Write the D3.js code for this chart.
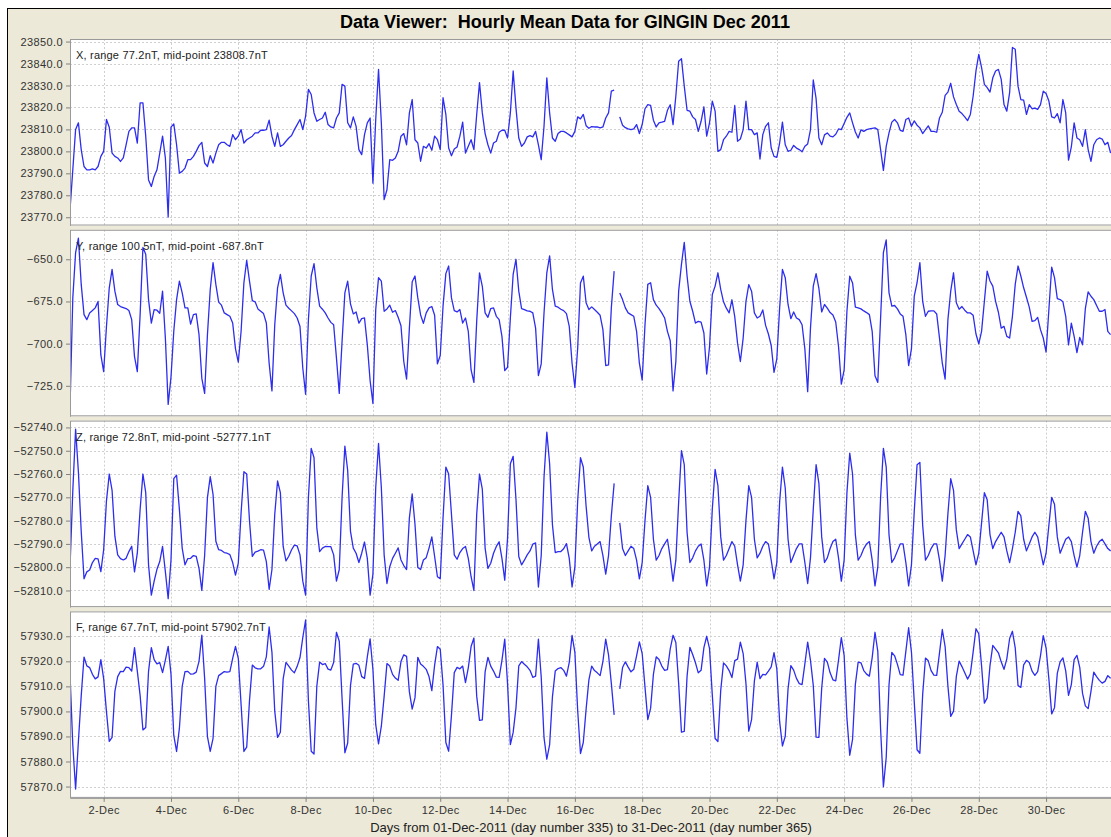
<!DOCTYPE html>
<html>
<head>
<meta charset="utf-8">
<script src="https://cdn.jsdelivr.net/npm/d3@7"></script>
<style>
  html, body { margin: 0; padding: 0; background: #ffffff; }
  svg { display: block; font-family: "Liberation Sans", Arial, sans-serif; }
</style>
</head>
<body>
<svg id="chart" width="1111" height="837"></svg>
<script>
// ---- data -------------------------------------------------------------
// Samples every 2 hours from 01-Dec-2011 00:00 UT
const seriesStart = Date.UTC(2011, 11, 1, 0);
const sampleHours = 2;
const lastHour = 743;

const xTickLabels = ["2-Dec", "4-Dec", "6-Dec", "8-Dec", "10-Dec", "12-Dec", "14-Dec", "16-Dec",
  "18-Dec", "20-Dec", "22-Dec", "24-Dec", "26-Dec", "28-Dec", "30-Dec"];

const components = ["X", "Y", "Z", "F"];
const ranges = [77.2, 100.5, 72.8, 67.7];
const midpoints = [23808.7, -687.8, -52777.1, 57902.7];

const xTicksNT = [23770, 23780, 23790, 23800, 23810, 23820, 23830, 23840, 23850];
const yTicksNT = [-725, -700, -675, -650];
const zTicksNT = [-52810, -52800, -52790, -52780, -52770, -52760, -52750, -52740];
const fTicksNT = [57870, 57880, 57890, 57900, 57910, 57920, 57930];

const xValues = [
  23773.3, 23791.6, 23810, 23813, 23800.8, 23793.1, 23791.6, 23791.6, 23792, 23791.6, 23793.1, 23797.7,
  23800, 23814.5, 23811, 23799.2, 23797.7, 23797, 23795.4, 23797, 23803, 23809.1, 23810.7, 23810.7,
  23803.8, 23822.1, 23822.1, 23806.9, 23787, 23784, 23788.6, 23791.6, 23799.2, 23806.9, 23797, 23770.1,
  23811, 23812.5, 23803, 23790.1, 23790.9, 23792.4, 23796.2, 23796.2, 23797.7, 23800, 23802.6, 23804.1,
  23794.7, 23793.1, 23798, 23794.7, 23799.2, 23803, 23804.1, 23804.1, 23803, 23802.3, 23807.6, 23805.3,
  23806.9, 23809.9, 23803.8, 23805.3, 23806.1, 23806.9, 23808.4, 23808.4, 23809.6, 23809.6, 23809.9, 23814.2,
  23806.9, 23802.3, 23808.4, 23802.3, 23803, 23804.6, 23806.1, 23807.2, 23809.9, 23812.2, 23814.5, 23809.9,
  23816, 23828.2, 23825.9, 23817.5, 23813.7, 23814.5, 23815.2, 23817.8, 23812.2, 23811.1, 23810.7, 23815.2,
  23817.5, 23830.5, 23829.7, 23813, 23810.7, 23815.7, 23811.4, 23800.8, 23798.5, 23807.6, 23813, 23815.2,
  23785.5, 23814.5, 23837.3, 23813, 23778, 23782.5, 23796.2, 23795.9, 23797, 23800, 23806.9, 23808.1,
  23803, 23817.5, 23823.6, 23805.3, 23803.8, 23795.5, 23802.3, 23801.5, 23803.5, 23800.5, 23806.9, 23805.3,
  23800.8, 23824.4, 23816.8, 23801.5, 23798, 23801.1, 23802, 23806.9, 23813.3, 23799.2, 23802.3, 23805.3,
  23800.8, 23816.8, 23831.3, 23817.5, 23808.1, 23803, 23799.2, 23803.8, 23804.6, 23808.7, 23809.6, 23809.6,
  23806.1, 23817.5, 23836.6, 23819.8, 23806.1, 23802.3, 23803.8, 23806.6, 23807.2, 23806.6, 23809.1, 23803,
  23796.2, 23811.4, 23833.5, 23817.5, 23806.1, 23804.6, 23808.1, 23809.1, 23809.1, 23808.4, 23807.5, 23806.6,
  23809.1, 23815.7, 23814.8, 23816.8, 23811.7, 23810.5, 23811.3, 23811.1, 23811.1, 23810.7, 23811.1, 23815.2,
  23817.5, 23827.4, 23827.9, null, 23815.7, 23811.9, 23810.8, 23810.2, 23809.9, 23810.2, 23812.2, 23808.1,
  23812.2, 23819.4, 23821.3, 23820.9, 23814.2, 23811.1, 23813, 23813.3, 23813.7, 23818.7, 23821.2, 23812.2,
  23825.2, 23841, 23842.2, 23829.7, 23818.7, 23818.3, 23815.7, 23814.5, 23809.1, 23813.7, 23820.3, 23806.9,
  23813, 23822.9, 23818.3, 23800, 23800.8, 23805.3, 23806.9, 23809.1, 23808.7, 23820.9, 23804.6, 23805.6,
  23809.9, 23822.9, 23809.9, 23809.9, 23807.6, 23808.4, 23796.5, 23807.6, 23811.4, 23813, 23801.5, 23797.7,
  23797.3, 23803.8, 23813.3, 23803, 23800, 23800.5, 23802.7, 23801.5, 23800.8, 23799.8, 23802.3, 23803.4,
  23809.9, 23832.5, 23824, 23806.1, 23803, 23807.5, 23808.4, 23806.9, 23806.6, 23807.8, 23810.2, 23809.9,
  23812.7, 23815.5, 23817.5, 23813, 23808.8, 23806.1, 23809.8, 23809.1, 23809.9, 23810.2, 23810.5, 23810.7,
  23809.9, 23800.8, 23791.3, 23802.3, 23808.4, 23813.3, 23814.5, 23813, 23809.6, 23809.1, 23814.5, 23815.2,
  23811.4, 23813.9, 23811.9, 23810.7, 23808.1, 23809.9, 23811.6, 23809.1, 23809.1, 23808.7, 23815.2, 23817.8,
  23825.5, 23827, 23831, 23824.8, 23821.3, 23818.3, 23817.2, 23815.7, 23814, 23816.8, 23825.2, 23836.6,
  23844.2, 23838.1, 23830.5, 23829, 23827, 23833.5, 23836.6, 23837.3, 23832.8, 23821.3, 23818.3, 23826.7,
  23847.3, 23846.5, 23829.7, 23823.6, 23823.3, 23816.8, 23821.3, 23819.4, 23819.7, 23819.1, 23821.3, 23827.4,
  23826.3, 23822.9, 23815.7, 23815.2, 23817.2, 23813, 23823.6, 23817.5, 23796, 23802, 23813, 23806.1,
  23805.3, 23802.3, 23809.9, 23800.8, 23795.4, 23803, 23805.3, 23806.1, 23805.6, 23803, 23804.1, 23799.2
];

const yValues = [
  -738, -672.9, -646, -637.5, -664.9, -682.8, -685.8, -681.8, -680.4, -678.8, -675, -706.7,
  -716.6, -689.8, -666.9, -656, -668.9, -676.8, -678, -678.6, -679.2, -680.4, -685.8, -707.7,
  -716.6, -682.8, -643, -647, -673.9, -687.8, -679.8, -680.2, -682, -668.9, -696.7, -736,
  -720, -692.7, -673.9, -662.9, -669.9, -678.8, -678.8, -688.4, -682.8, -682.4, -694.7, -720.6,
  -729.5, -694.7, -667.9, -652, -664.9, -675.4, -677.2, -681.8, -682.8, -683.8, -687.8, -703.1,
  -711, -692.7, -663.9, -650.6, -662.9, -674.5, -675.2, -679.4, -680.8, -682.2, -687.8, -711.6,
  -728, -688.8, -666.9, -659, -669.9, -677.2, -679, -680.6, -682.2, -684.8, -689.8, -714.6,
  -730, -685.8, -659.9, -652.6, -666.9, -677.8, -679.6, -681.8, -684.8, -687.4, -688.8, -708.6,
  -729.5, -698.7, -669.9, -663, -676.4, -682.4, -681.2, -687.8, -685.2, -684.8, -700.7, -722,
  -735.5, -679.8, -660.9, -662.9, -680.8, -679.4, -677.2, -681.4, -680.4, -684.4, -689.4, -710.6,
  -721, -690.8, -663.3, -659.9, -672.9, -683, -688, -681.8, -678.8, -678, -683.2, -712,
  -707, -677.8, -658.5, -654, -672.9, -680.4, -681.2, -679.8, -687.8, -684.8, -692.7, -715.6,
  -723, -686.8, -658, -666, -681.8, -684.4, -679.2, -678.8, -683.8, -685.8, -695.7, -716,
  -714, -684.8, -658.9, -650, -668.9, -679.2, -679.8, -680.6, -680.8, -681.8, -690.8, -719,
  -712, -681.8, -658, -648, -667.9, -677.8, -678.4, -679.6, -680.4, -682.2, -689.8, -711.6,
  -726, -702.7, -664, -660, -675.8, -679.8, -678.2, -679.8, -681.4, -683.2, -691.7, -713,
  -712.6, -678.8, -657, null, -670, -673.9, -678.8, -681.8, -682.8, -683.8, -692.7, -711.6,
  -721.6, -688.8, -664.9, -663.9, -673.9, -677.2, -679.2, -681.8, -684.8, -692.7, -698.3, -728,
  -710.6, -668.9, -653, -640, -659.9, -674.9, -680.8, -687.8, -686.8, -687.2, -693.7, -718,
  -702, -670.9, -665.9, -658, -667.9, -675.2, -679, -681.8, -674, -684, -699.7, -710.6,
  -696.7, -674.9, -665, -668.9, -681.8, -684.8, -683.8, -680, -689.2, -694.3, -701.1, -717,
  -709, -678.8, -656, -660.9, -676.8, -685.2, -681.2, -684.8, -685.8, -688.8, -703.1, -728.5,
  -690.8, -665.9, -658.5, -667.3, -681.2, -676.8, -679, -681.6, -683, -687.2, -701.7, -724,
  -715.6, -680.8, -660, -664, -678.4, -678.8, -679.4, -680.6, -681.6, -682.8, -692.7, -719,
  -723, -684.8, -646, -638.5, -669.9, -677.8, -677.4, -679.4, -682.4, -683.8, -694.7, -713,
  -703, -671.9, -663.9, -652, -674.9, -683.8, -680.8, -680.6, -680.6, -682.4, -696.7, -711.6,
  -721, -685.8, -668.9, -658, -675.8, -679.6, -678, -680.2, -681.8, -681.8, -683.2, -694.3,
  -700.1, -692.7, -674.9, -657, -662.9, -665.9, -674.9, -681.4, -690.8, -689.8, -695.7, -696.7,
  -683.8, -664.9, -654, -659.9, -666.9, -672.5, -678.4, -686.8, -686.4, -684.4, -691.7, -696.7,
  -705, -679.8, -654.6, -660.9, -673.3, -673.9, -675.2, -683.8, -700.7, -687.8, -695.7, -705.3,
  -696.3, -700.7, -679.2, -669.3, -671.9, -673.9, -677.4, -680.8, -680.8, -679.8, -692.7, -694.7
];

const zValues = [
  -52800, -52767.2, -52740.7, -52759.2, -52784.6, -52805, -52802, -52801.2, -52798, -52796.2, -52796.4, -52801.9,
  -52792.5, -52771.5, -52760, -52767, -52786.7, -52794.7, -52796.3, -52796.9, -52796.2, -52793.3, -52791, -52802,
  -52794, -52775.2, -52760, -52768, -52799, -52812, -52806, -52800.9, -52797.6, -52791.1, -52801.9, -52813.5,
  -52797, -52762, -52760.5, -52775.2, -52791.8, -52799, -52796.3, -52796.2, -52795, -52795.4, -52800.5, -52810,
  -52795, -52770.1, -52761.1, -52768.7, -52788.9, -52792.5, -52792.8, -52793.7, -52794, -52794.6, -52798, -52803.4,
  -52798.3, -52776.6, -52759, -52760, -52780.2, -52795.4, -52793.5, -52793.1, -52792.5, -52792.7, -52797.6, -52809.5,
  -52801, -52777.3, -52763, -52768, -52791.1, -52797.3, -52795.3, -52792.5, -52790.5, -52790.9, -52794.7, -52806,
  -52812, -52770.1, -52749, -52753, -52783.1, -52793.3, -52791.8, -52791.1, -52791.2, -52791.2, -52794.7, -52806,
  -52801, -52770.1, -52748, -52758.5, -52784.6, -52791.8, -52794, -52798, -52794, -52789.2, -52796.2, -52812,
  -52803, -52765.8, -52746.9, -52765.8, -52794.7, -52807, -52799.8, -52796.2, -52794, -52791.7, -52796.9, -52799.3,
  -52801, -52778.8, -52768.5, -52781.7, -52800.1, -52801, -52796.9, -52795.9, -52791.8, -52787, -52795.4, -52804.1,
  -52805, -52778.8, -52757, -52760, -52777.3, -52794.7, -52796.6, -52793.7, -52792, -52791.1, -52796.2, -52804.1,
  -52810, -52777.3, -52760, -52766.5, -52791.8, -52800.5, -52798.3, -52794, -52791.1, -52789.1, -52796.2, -52805.6,
  -52787.5, -52755.6, -52752.4, -52770.8, -52795.4, -52799, -52797, -52794.7, -52793, -52790.1, -52789.6, -52808.5,
  -52795, -52761.4, -52742, -52755.6, -52781.7, -52793.7, -52793.3, -52793.3, -52792.1, -52789.9, -52796.2, -52808.5,
  -52800, -52771.5, -52753, -52757, -52773.7, -52787.2, -52793, -52791, -52790, -52789, -52795, -52803,
  -52795, -52778, -52764, null, -52781, -52792, -52795, -52793, -52791, -52792, -52797, -52805,
  -52798, -52780, -52765, -52770, -52788, -52797, -52795, -52792, -52790, -52788, -52796, -52806,
  -52797, -52772, -52750, -52756, -52785, -52798, -52796, -52793, -52791, -52790, -52797, -52808,
  -52800, -52775, -52758, -52765, -52787, -52797, -52795, -52792, -52789, -52791, -52799, -52806,
  -52799, -52780, -52765, -52770, -52788, -52796, -52794, -52791, -52789, -52790, -52797, -52805,
  -52798, -52772, -52757, -52766, -52788, -52798, -52795, -52792, -52790, -52790, -52798, -52807,
  -52796, -52775, -52756, -52764, -52787, -52798, -52796, -52792, -52789, -52788, -52796, -52806,
  -52797, -52768, -52751, -52760, -52786, -52797, -52795, -52792, -52790, -52789, -52797, -52808,
  -52800, -52770, -52749, -52757, -52786, -52798, -52796, -52793, -52790, -52790, -52798, -52808,
  -52799, -52776, -52756, -52755, -52782, -52797, -52795, -52792, -52790, -52790, -52797, -52806,
  -52795, -52777, -52762, -52767, -52784, -52792, -52790, -52788, -52786, -52787, -52793, -52799,
  -52794, -52781, -52768, -52771, -52786, -52792, -52789, -52787, -52785, -52787, -52793, -52798,
  -52792, -52785, -52776, -52778, -52788, -52793, -52790, -52787, -52785, -52787, -52793, -52799,
  -52794, -52782, -52770, -52773, -52787, -52794, -52791, -52788, -52787, -52789, -52795, -52800,
  -52795, -52785, -52776, -52779, -52789, -52794, -52791, -52789, -52788, -52790, -52792, -52793
];

const fValues = [
  57915, 57886.5, 57869, 57888.1, 57906.2, 57921.7, 57918.2, 57917.5, 57914.8, 57913, 57913.8, 57920.7,
  57913.1, 57899.9, 57888, 57889.6, 57908, 57913.9, 57916, 57915.9, 57917.7, 57917.5, 57916.1, 57925.5,
  57916.1, 57906.4, 57892.6, 57893.6, 57916, 57925.5, 57920.7, 57919, 57919.5, 57915.5, 57920.5, 57926,
  57915, 57890.4, 57884, 57893.2, 57910, 57915.9, 57916, 57914.9, 57915, 57915.7, 57920, 57930.5,
  57913.2, 57889.9, 57884, 57889.2, 57910, 57914.3, 57915.1, 57915.9, 57915.7, 57915.9, 57921.2, 57926,
  57921.2, 57902.7, 57884, 57885.7, 57904.4, 57918.5, 57917.4, 57917, 57917, 57918, 57921.8, 57933.7,
  57923.6, 57900.1, 57889.6, 57891.7, 57913, 57919.6, 57918.1, 57916.5, 57915.4, 57918, 57921.5, 57929.5,
  57936.5, 57904.3, 57884.1, 57883, 57910.1, 57919.7, 57918.7, 57919.1, 57916.9, 57916.5, 57919.5, 57931.6,
  57928, 57905.2, 57883.5, 57887.4, 57910.3, 57918.9, 57919.2, 57918.4, 57913.9, 57913.2, 57921.8, 57929,
  57916.7, 57894.7, 57887, 57894.1, 57906, 57919.1, 57918.1, 57914.8, 57913.3, 57912.4, 57919.9, 57922.6,
  57922, 57907.8, 57900.9, 57905.5, 57921.6, 57918.9, 57918, 57916.8, 57913.9, 57908.3, 57918.5, 57925.9,
  57924.8, 57910.6, 57887.6, 57884.1, 57898.4, 57915.5, 57917.6, 57917, 57918.1, 57911.5, 57917.4, 57925.9,
  57929.3, 57906.1, 57896.4, 57896.6, 57915.8, 57921.6, 57918.1, 57916.1, 57913.7, 57913.6, 57920.4, 57928.9,
  57911, 57886.7, 57891.6, 57901.4, 57918.2, 57919.9, 57918.8, 57917.8, 57916.4, 57913.6, 57914.1, 57928.9,
  57913.8, 57889.5, 57880.9, 57886.7, 57905.8, 57916.1, 57917.1, 57917.5, 57916.4, 57914.1, 57919.6, 57930.4,
  57923.6, 57900.4, 57883.2, 57887.6, 57900.8, 57912.6, 57918.1, 57916.3, 57915.4, 57914.3, 57920, 57928.9,
  57922.6, 57911.2, 57898.6, null, 57909, 57917.5, 57919.8, 57917.7, 57915.8, 57916.8, 57922.2, 57927.8,
  57923.1, 57909.7, 57896.7, 57901.2, 57914.8, 57921.8, 57920.7, 57918.1, 57916.4, 57916.7, 57925, 57930.4,
  57927.5, 57911.2, 57891.7, 57892, 57914, 57925.6, 57922.7, 57919.4, 57915.4, 57916.4, 57925.5, 57930,
  57925.2, 57906.5, 57889.2, 57888, 57908.4, 57919.4, 57918.2, 57916.3, 57913.5, 57920.3, 57920.9, 57927.7,
  57923.1, 57911.1, 57892.1, 57896.7, 57912.1, 57919.7, 57913.1, 57914.8, 57914.6, 57916.1, 57917.8, 57923.5,
  57917, 57896, 57886.2, 57890.1, 57909, 57918.3, 57916.5, 57913.2, 57911.1, 57910.7, 57919, 57927.7,
  57920.4, 57910.4, 57889.7, 57889.6, 57909.3, 57921.2, 57919.7, 57915.4, 57912.6, 57912.2, 57920.5, 57929.5,
  57922.4, 57897.2, 57882.5, 57888.8, 57910.8, 57919.7, 57919.4, 57916.3, 57914.9, 57914.1, 57921.5, 57931.6,
  57924, 57892.9, 57869.9, 57881.6, 57910.6, 57923.6, 57922.2, 57918.8, 57914.7, 57914.5, 57924, 57933.4,
  57923.7, 57903.8, 57884.7, 57883.3, 57906.8, 57921.3, 57920.2, 57916.3, 57914.5, 57914.4, 57923.4, 57932.7,
  57925.9, 57910.1, 57898, 57900.1, 57914, 57920.1, 57917.9, 57915.4, 57912.9, 57915, 57923.8, 57933,
  57931, 57918.2, 57903.3, 57905.4, 57918.3, 57926.4, 57924.9, 57923.4, 57919.8, 57916.8, 57921, 57929.1,
  57932, 57925.4, 57910.3, 57909.6, 57918.6, 57920.4, 57919.5, 57916.1, 57914.4, 57915.9, 57922.2, 57930.3,
  57925.3, 57912.9, 57899, 57901.5, 57915.2, 57919.8, 57921.4, 57916.2, 57906.4, 57910.7, 57920.7, 57922.4,
  57917.6, 57907.2, 57902.2, 57901.1, 57908, 57915.7, 57913.9, 57912.4, 57911.3, 57912, 57914.3, 57913.2
];

// ---- layout -----------------------------------------------------------
const W = 1111, H = 837;
const plotLeft = 70, plotRight = 1112;
const panelTop0 = 39, panelStep = 190.8, panelH = 186.5;

const svg = d3.select("#chart");

svg.append("rect").attr("x", 0).attr("y", 0).attr("width", W).attr("height", H).attr("fill", "#ffffff");
svg.append("rect")
  .attr("x", 7.5).attr("y", 8.5).attr("width", W + 20).attr("height", H + 20)
  .attr("fill", "#ECE9D8").attr("stroke", "#000000").attr("stroke-width", 1);

svg.append("text")
  .attr("x", 565).attr("y", 28)
  .attr("text-anchor", "middle")
  .style("white-space", "pre")
  .attr("font-size", 18).attr("font-weight", "bold").attr("fill", "#000")
  .text("Data Viewer:  Hourly Mean Data for GINGIN Dec 2011");

const timeOf = i => new Date(seriesStart + i * sampleHours * 3600 * 1000);
const x = d3.scaleUtc()
  .domain([new Date(seriesStart), new Date(seriesStart + lastHour * 3600 * 1000)])
  .range([plotLeft, plotRight]);

const parseTick = d3.utcParse("%d-%b-%Y");
const tickDates = xTickLabels.map(s => parseTick(s + "-2011"));

const panels = [
  { values: xValues, ticks: xTicksNT },
  { values: yValues, ticks: yTicksNT },
  { values: zValues, ticks: zTicksNT },
  { values: fValues, ticks: fTicksNT }
];

const fmt1 = d3.format(".1f");
const defs = svg.append("defs");

panels.forEach((p, i) => {
  const top = panelTop0 + i * panelStep;
  const bottom = top + panelH;
  const lo = midpoints[i] - ranges[i] / 2, hi = midpoints[i] + ranges[i] / 2;
  const pad = ranges[i] * 0.05;
  const y = d3.scaleLinear().domain([lo - pad, hi + pad]).range([bottom, top]);

  const g = svg.append("g");

  g.append("rect")
    .attr("x", plotLeft).attr("y", top)
    .attr("width", plotRight - plotLeft).attr("height", panelH)
    .attr("fill", "#ffffff");

  // grid
  g.append("g").selectAll("line").data(p.ticks).join("line")
    .attr("x1", plotLeft).attr("x2", plotRight)
    .attr("y1", d => Math.round(y(d)) + 0.5).attr("y2", d => Math.round(y(d)) + 0.5)
    .attr("stroke", "#cfcfcf").attr("stroke-width", 1).attr("stroke-dasharray", "2,2");
  g.append("g").selectAll("line").data(tickDates).join("line")
    .attr("x1", d => Math.round(x(d)) + 0.5).attr("x2", d => Math.round(x(d)) + 0.5)
    .attr("y1", top).attr("y2", bottom)
    .attr("stroke", "#cfcfcf").attr("stroke-width", 1).attr("stroke-dasharray", "2,2");

  // series
  const clipId = "clip" + i;
  defs.append("clipPath").attr("id", clipId)
    .append("rect").attr("x", plotLeft).attr("y", top)
    .attr("width", plotRight - plotLeft).attr("height", panelH);

  const pts = p.values.map((v, k) => ({ t: timeOf(k), v }));
  const line = d3.line()
    .defined(d => d.v !== null)
    .x(d => x(d.t))
    .y(d => y(d.v));
  g.append("path")
    .datum(pts)
    .attr("clip-path", `url(#${clipId})`)
    .attr("fill", "none")
    .attr("stroke", "#2d2dee")
    .attr("stroke-width", 1.3)
    .attr("stroke-linejoin", "round")
    .attr("d", line);

  // outline
  g.append("rect")
    .attr("x", plotLeft + 0.5).attr("y", top + 0.5)
    .attr("width", plotRight - plotLeft).attr("height", panelH - 1)
    .attr("fill", "none").attr("stroke", "#9a9a9a").attr("stroke-width", 1);

  // y axis
  const ya = g.append("g")
    .attr("transform", `translate(${plotLeft},0)`)
    .call(d3.axisLeft(y).tickValues(p.ticks).tickFormat(fmt1).tickSizeInner(4).tickSizeOuter(0).tickPadding(3));
  ya.select(".domain").attr("stroke", "#9a9a9a");
  ya.selectAll(".tick line").attr("stroke", "#808080");
  ya.selectAll(".tick text")
    .attr("font-family", "'Liberation Sans', Arial, sans-serif")
    .attr("font-size", 11).attr("letter-spacing", "0.4px").attr("fill", "#333");

  // component caption
  g.append("text")
    .attr("x", 76).attr("y", top + 20)
    .attr("font-size", 11).attr("letter-spacing", "0.2px").attr("fill", "#222")
    .text(`${components[i]}, range ${ranges[i].toFixed(1)}nT, mid-point ${midpoints[i].toFixed(1)}nT`);

  if (i === panels.length - 1) {
    const xa = g.append("g")
      .attr("transform", `translate(0,${bottom})`)
      .call(d3.axisBottom(x).tickValues(tickDates).tickFormat((d, j) => xTickLabels[j])
        .tickSizeInner(4).tickSizeOuter(0).tickPadding(4));
    xa.select(".domain").attr("stroke", "#9a9a9a");
    xa.selectAll(".tick line").attr("stroke", "#808080");
    xa.selectAll(".tick text")
      .attr("font-family", "'Liberation Sans', Arial, sans-serif")
      .attr("font-size", 11).attr("letter-spacing", "0.4px").attr("fill", "#333");
  }
});

svg.append("text")
  .attr("x", (plotLeft + plotRight) / 2).attr("y", 832)
  .attr("text-anchor", "middle")
  .attr("font-size", 13).attr("fill", "#222")
  .text("Days from 01-Dec-2011 (day number 335) to 31-Dec-2011 (day number 365)");
</script>
</body>
</html>
